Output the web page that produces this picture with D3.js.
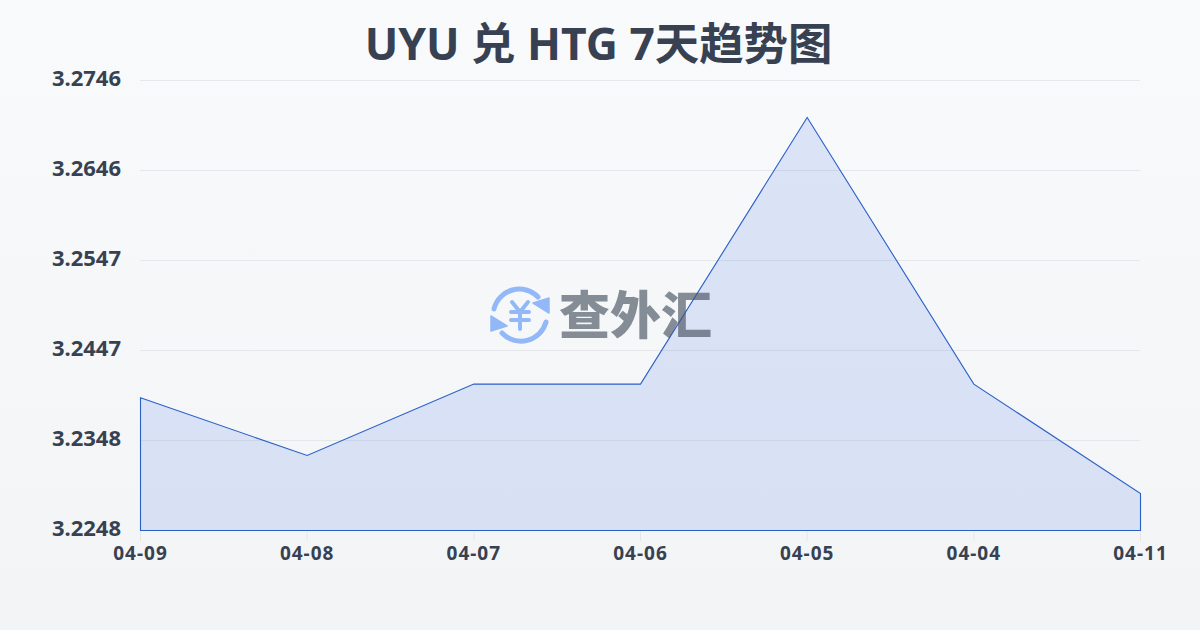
<!DOCTYPE html>
<html><head><meta charset="utf-8">
<script src="https://cdn.jsdelivr.net/npm/d3@7/dist/d3.min.js"></script>
<style>html,body{margin:0;padding:0;width:1200px;height:630px;overflow:hidden}svg{display:block}
text{font-family:"Noto Sans","Noto Sans CJK SC",sans-serif}</style></head><body>
<svg id="c" width="1200" height="630"></svg>
<script>
const titleText = "UYU 兑 HTG 7天趋势图";
const categories = ["04-09","04-08","04-07","04-06","04-05","04-04","04-11"];
const rates = [3.2395,3.2331,3.2410,3.2410,3.2705,3.2410,3.2289];
const yTicks = [3.2248,3.2348,3.2447,3.2547,3.2646,3.2746];
const yMin = 3.2248, yMax = 3.2746;
const svg = d3.select("#c");
const defs = svg.append("defs");
const bg = defs.append("linearGradient").attr("id","bg").attr("x1",0).attr("y1",0).attr("x2",0).attr("y2",1);
bg.append("stop").attr("offset",0).attr("stop-color","#f8fafc");
bg.append("stop").attr("offset",1).attr("stop-color","#f3f4f6");
svg.append("rect").attr("width",1200).attr("height",630).attr("fill","url(#bg)");
const x = d3.scalePoint().domain(categories).range([140.5,1140.5]);
const y = d3.scaleLinear().domain([yMin,yMax]).range([530.5,80.5]);
const dark = "#374151";
svg.append("text").attr("x",598.5).attr("y",60).attr("text-anchor","middle").attr("font-size",44.4).attr("font-weight",700).attr("fill",dark).text(titleText);
svg.append("g").selectAll("line").data(yTicks.slice(1)).join("line")
  .attr("x1",140).attr("x2",1140).attr("y1",d=>Math.floor(y(d))+.5).attr("y2",d=>Math.floor(y(d))+.5)
  .attr("stroke","#e5e7eb").attr("stroke-width",1);
svg.append("g").selectAll("line").data(categories).join("line")
  .attr("x1",d=>x(d)).attr("x2",d=>x(d)).attr("y1",530).attr("y2",541).attr("stroke","#e5e7eb");
svg.append("g").selectAll("text").data(yTicks).join("text")
  .attr("x",121).attr("y",d=>y(d)+5.5).attr("text-anchor","end").attr("font-size",22).attr("font-weight",700).attr("fill",dark)
  .text(d=>d.toFixed(4));
svg.append("g").selectAll("text").data(categories).join("text")
  .attr("x",d=>x(d)).attr("y",560).attr("text-anchor","middle").attr("font-size",19).attr("letter-spacing","1").attr("font-weight",700).attr("fill",dark)
  .text(d=>d);
const area = d3.area().x((d,i)=>x(categories[i])).y0(y(yMin)).y1(d=>y(d));
svg.append("path").datum(rates).attr("d",area).attr("fill","rgba(37,90,225,0.135)").attr("stroke","#2b5fc8").attr("stroke-width",1.1);
// watermark
const w = svg.append("g");
const blue="#93b8f8";
w.append("text").attr("x",559).attr("y",334).attr("font-family","Noto Sans CJK SC").attr("font-size",51).attr("font-weight",900).attr("fill","#4b5563").attr("opacity",.66).text("查外汇");
const c = w.append("g").attr("transform","translate(520,315)").attr("fill","none").attr("stroke",blue).attr("stroke-width",5).attr("stroke-linecap","round").attr("stroke-linejoin","round");
c.append("path").attr("d","M-26,-6 A26,26 0 0 1 18,-18");
c.append("path").attr("d","M26,7 A26,26 0 0 1 -18,18");
c.append("path").attr("fill",blue).attr("stroke",blue).attr("stroke-width",1.5).attr("d","M13,-12 L29,-17 L29,-2 Z");
c.append("path").attr("fill",blue).attr("stroke",blue).attr("stroke-width",1.5).attr("d","M-13,11 L-29,16 L-29,1 Z");
c.append("path").attr("stroke-width",4).attr("d","M-8,-13 L0,-3 L8,-13 M-9,-3 H9 M-9,5 H9 M0,-3 V14");
</script></body></html>
